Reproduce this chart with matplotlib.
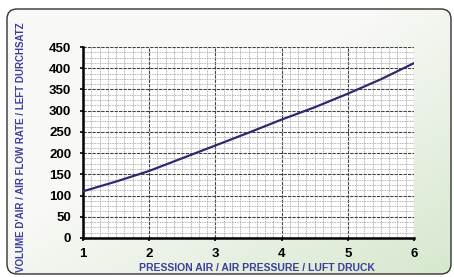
import numpy as np
import matplotlib
matplotlib.use('Agg')
import matplotlib.pyplot as plt
from matplotlib.patches import FancyBboxPatch
from matplotlib.ticker import MultipleLocator

pressure = [1, 1.5, 2, 2.5, 3, 3.5, 4, 4.5, 5, 5.5, 6]
flow = [110, 133, 158, 188, 218, 248, 279, 308, 340, 374, 412]
x_ticks = [1, 2, 3, 4, 5, 6]
y_ticks = [0, 50, 100, 150, 200, 250, 300, 350, 400, 450]
x_label = "PRESSION AIR / AIR PRESSURE / LUFT DRUCK"
y_label = "VOLUME D'AIR / AIR FLOW RATE / LEFT DURCHSATZ"

plt.rcParams['font.family'] = ['Liberation Sans', 'DejaVu Sans']
fig = plt.figure(figsize=(4.54, 2.77), dpi=100)
fig.patch.set_facecolor('white')

# panel background with soft green gradient toward bottom right
bg = fig.add_axes([0, 0, 1, 1], zorder=0)
bg.set_xlim(0, 454)
bg.set_ylim(277, 0)
bg.axis('off')
gx, gy = np.meshgrid(np.linspace(0, 1, 200), np.linspace(0, 1, 120))
t = np.clip((gx * 0.6 + gy * 0.6) - 0.5, 0, 1) / 0.7
c0 = np.array([0.975, 0.975, 0.965])
c1 = np.array([0.84, 0.91, 0.81])
img = c0 + (c1 - c0) * t[..., None]
box = FancyBboxPatch((7, 9), 444, 265, boxstyle="round,pad=0,rounding_size=10",
                     fc='none', ec='#333333', lw=1.0, transform=bg.transData)
im = bg.imshow(img, extent=[7, 451, 274, 9], aspect='auto')
bg.add_patch(box)
im.set_clip_path(box)

ax = fig.add_axes([83/454, 1-238/277, 331/454, 191/277], zorder=1)
ax.set_facecolor('white')
ax.plot(pressure, flow, color='#2e2a6e', lw=1.6, zorder=3)
ax.set_xlim(1, 6)
ax.set_ylim(0, 450)
ax.set_xticks(x_ticks)
ax.set_yticks(y_ticks)
ax.xaxis.set_minor_locator(MultipleLocator(0.125))
ax.yaxis.set_minor_locator(MultipleLocator(12.5))
ax.grid(which='major', color='#444444', ls=(0, (3, 1)), lw=0.8)
ax.grid(which='minor', color='#999999', ls=(0, (1, 1)), lw=0.6)
ax.set_axisbelow(True)
for s in ['top', 'right']:
    ax.spines[s].set_visible(False)
for s in ['left', 'bottom']:
    ax.spines[s].set_linewidth(1.8)
ax.tick_params(which='major', length=2.5, width=1.2, labelsize=9.5)
ax.tick_params(which='minor', length=0)
ax.tick_params(axis='x', pad=5)
ax.tick_params(axis='y', pad=6)
for lab in ax.get_xticklabels() + ax.get_yticklabels():
    lab.set_fontweight('bold')

fig.text(257/454, 1-268/277, x_label, ha='center', va='center', fontsize=7.5,
         fontweight='bold', color='#3b3f9a')
fig.text(21/454, 1-147/277, y_label, ha='center', va='center', rotation=90,
         fontsize=7, fontweight='bold', color='#3b3f9a')

fig.savefig('out.png', dpi=100)
